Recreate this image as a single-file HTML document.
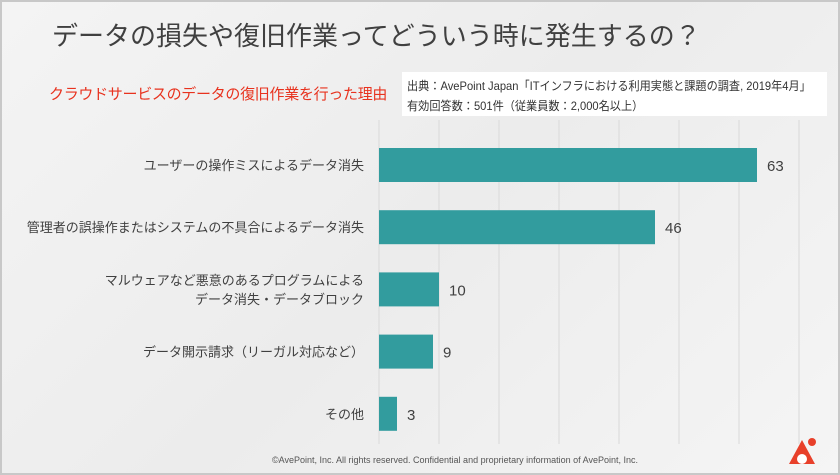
<!DOCTYPE html>
<html><head><meta charset="utf-8"><style>
body{margin:0;width:840px;height:475px;overflow:hidden;background:#fff;font-family:"Liberation Sans","Noto Sans CJK JP",sans-serif}
#slide{position:absolute;left:0;top:0;width:836px;height:471px;border:2px solid #c8c8c8;background:linear-gradient(135deg,#f4f4f4,#ececec 50%,#f5f5f5)}
.t{position:absolute;white-space:nowrap}
</style></head><body>
<div id="slide">
<div class="t" style="left:50px;top:14px;font-size:26px;color:#404040">データの損失や復旧作業ってどういう時に発生するの？</div>
<div class="t" style="left:47px;top:81px;font-size:15px;color:#e8321e;letter-spacing:-0.3px">クラウドサービスのデータの復旧作業を行った理由</div>
<div style="position:absolute;left:400px;top:70px;width:425px;height:44px;background:#fff"></div>
<div class="t" style="left:405px;top:74px;font-size:12px;color:#333;line-height:20px;transform:scaleX(0.93);transform-origin:0 0">出典：AvePoint Japan「ITインフラにおける利用実態と課題の調査, 2019年4月」<br>有効回答数：501件（従業員数：2,000名以上）</div>
<svg id="chart" width="840" height="475" style="position:absolute;left:-2px;top:-2px"></svg>
<div class="t" style="left:270px;top:453px;font-size:9px;color:#555">©AvePoint, Inc. All rights reserved. Confidential and proprietary information of AvePoint, Inc.</div>
<svg width="30" height="30" style="position:absolute;left:786px;top:435px"><polygon points="14,3 27,27 1,27" fill="#e8402a"/><circle cx="14" cy="22" r="5" fill="#fff"/><circle cx="24" cy="5" r="4" fill="#e8402a"/></svg>
</div>
<script>
const categories=["ユーザーの操作ミスによるデータ消失","管理者の誤操作またはシステムの不具合によるデータ消失","マルウェアなど悪意のあるプログラムによる\nデータ消失・データブロック","データ開示請求（リーガル対応など）","その他"];
const values=[63,46,10,9,3];
const ticks=[0,10,20,30,40,50,60,70];
const svg=document.getElementById('chart');
const NS='http://www.w3.org/2000/svg';
const x=v=>379+v*6.0;
const y=i=>165+i*62.2;
function mk(t,a){const e=document.createElementNS(NS,t);for(const k in a)e.setAttribute(k,a[k]);svg.appendChild(e);return e;}
ticks.forEach(t=>{const l=mk('line',{x1:x(t),x2:x(t),y1:120,y2:444,stroke:'#d9d9d9','stroke-width':1});

});
values.forEach((v,i)=>{
const r=mk('rect',{x:x(0),y:y(i)-17,width:x(v)-x(0),height:34,fill:'#329c9e'});


const tv=mk('text',{x:x(v)+10,y:y(i)+6,'font-size':15,fill:'#404040'});tv.textContent=v;


const lines=categories[i].split('\n');
lines.forEach((s,j)=>{const tl=mk('text',{x:364,y:y(i)+5+(j-(lines.length-1)/2)*19,'font-size':13,fill:'#404040','text-anchor':'end'});tl.textContent=s;

});
});
</script>
</body></html>
